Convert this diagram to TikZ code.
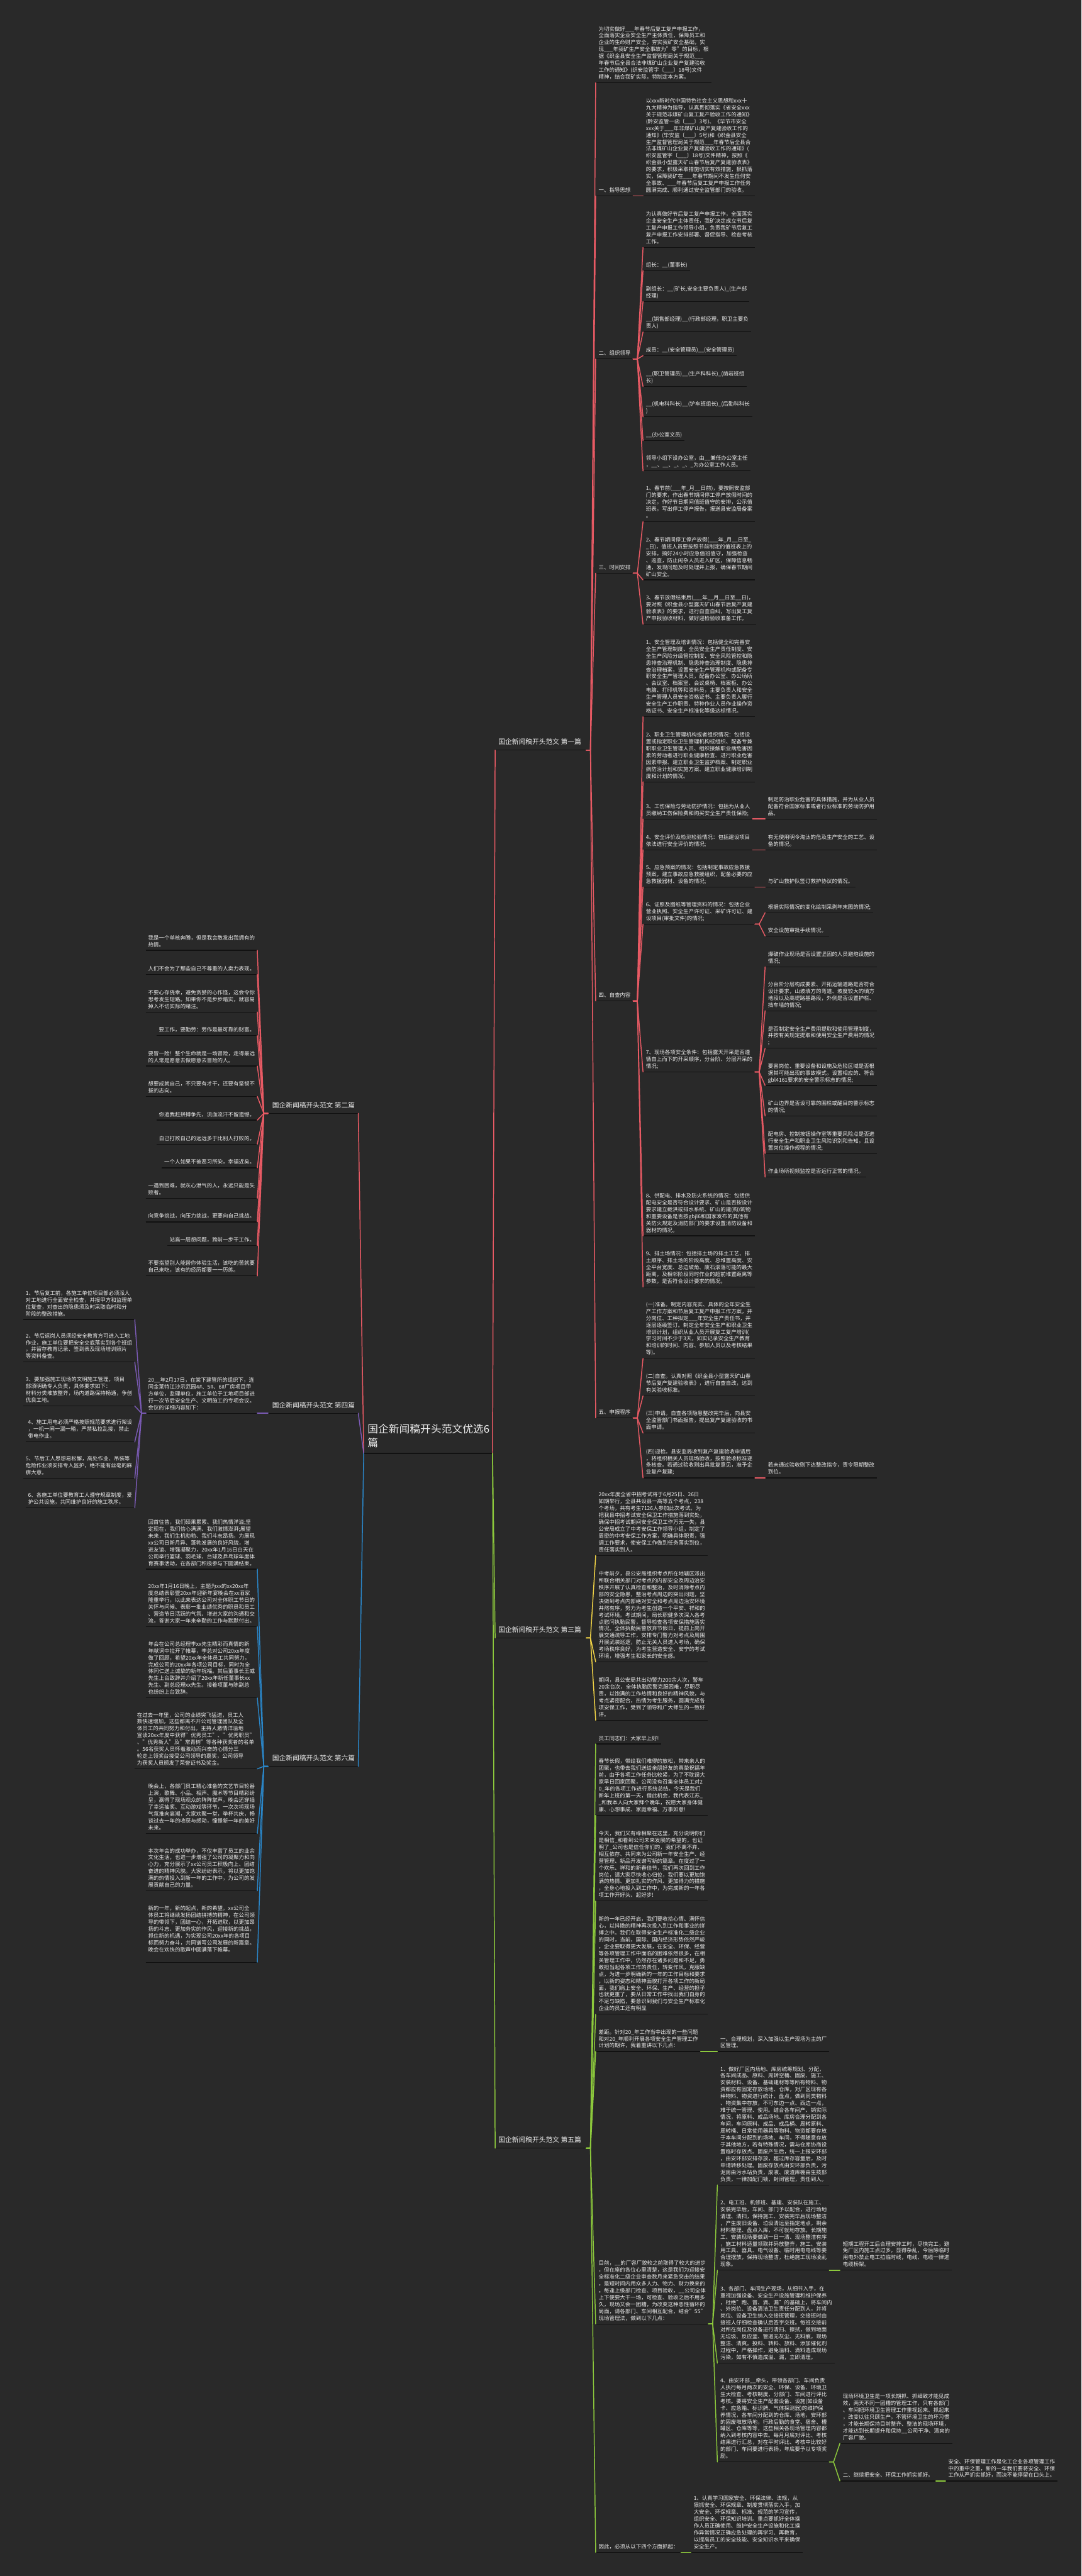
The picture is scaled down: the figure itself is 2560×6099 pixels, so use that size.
\documentclass[tikz,border=0pt]{standalone}
\usepackage{fontspec}
\setmainfont{Noto Sans CJK SC}
\definecolor{bg}{HTML}{292929}
\definecolor{fg}{HTML}{ECECEC}
\definecolor{ulc}{HTML}{111111}
\definecolor{cred}{HTML}{E85A64}
\definecolor{cgrn}{HTML}{8CC83C}
\definecolor{cyel}{HTML}{F0D246}
\definecolor{cblu}{HTML}{2A86C8}
\definecolor{cpur}{HTML}{7A5AB4}
\tikzset{
 every node/.style={text=fg, inner sep=0pt, outer sep=0pt},
 tx/.style={font=\fontsize{12.6}{16.3}\selectfont, align=left},
 rnode/.style={tx, anchor=south west},
 lnode/.style={tx, anchor=south east},
 lab/.style={font=\fontsize{16}{20.8}\selectfont, align=left},
 cen/.style={font=\fontsize{25}{33}\selectfont, align=left},
 ul/.style={draw=ulc, line width=1.8pt},
 con/.style={line width=2.2pt, line join=round, line cap=round},
}
\newcommand\RN[4]{%
 \node[rnode] (#1) at (#2,#3-4) {#4\strut};
 \coordinate (#1-l) at ([xshift=-7pt,yshift=-4pt]#1.south west);
 \coordinate (#1-r) at ([xshift=6pt,yshift=-4pt]#1.south east);
 \draw[ul] (#1-l) -- (#1-r);}
\newcommand\LN[4]{%
 \node[lnode] (#1) at (#2,#3-4) {#4\strut};
 \coordinate (#1-l) at ([xshift=-6pt,yshift=-4pt]#1.south west);
 \coordinate (#1-r) at ([xshift=6pt,yshift=-4pt]#1.south east);
 \draw[ul] (#1-l) -- (#1-r);}
\newcommand\LR[3]{%
 \node[lab, anchor=south west] (#1) at (1180,#2-7) {#3\strut};
 \coordinate (#1-l) at ([xshift=-8pt,yshift=-7pt]#1.south west);
 \coordinate (#1-r) at ([xshift=12pt,yshift=-7pt]#1.south east);
 \draw[ul] (#1-l) -- (#1-r);}
\newcommand\LL[3]{%
 \node[lab, anchor=south east] (#1) at (840,#2-7) {#3\strut};
 \coordinate (#1-l) at ([xshift=-10pt,yshift=-7pt]#1.south west);
 \coordinate (#1-r) at ([xshift=8pt,yshift=-7pt]#1.south east);
 \draw[ul] (#1-l) -- (#1-r);}
\newcommand\FR[3]{\foreach \kid in {#3}{\draw[con,#1] (#2-r) -- ([xshift=10pt]#2-r) -- (\kid-l);}}
\newcommand\FL[3]{\foreach \kid in {#3}{\draw[con,#1] (#2-l) -- ([xshift=-10pt]#2-l) -- (\kid-r);}}
\begin{document}
\begin{tikzpicture}[x=1pt,y=-1pt]
\fill[bg] (0,0) rectangle (2560,6099);
\useasboundingbox (0,0) rectangle (2560,6099);

% ---------- central ----------
\node[cen, anchor=south west] (C) at (870,3436) {国企新闻稿开头范文优选6\\篇\strut};
\coordinate (C-l) at ([xshift=-9pt,yshift=-5pt]C.south west);
\coordinate (C-r) at ([xshift=7pt,yshift=-5pt]C.south east);
\draw[ul] (C-l) -- (C-r);

\LR{L1}{1776}{国企新闻稿开头范文 第一篇}
\LR{L3}{3878}{国企新闻稿开头范文 第三篇}
\LR{L5}{5086}{国企新闻稿开头范文 第五篇}
\LL{L2}{2636}{国企新闻稿开头范文 第二篇}
\LL{L4}{3346}{国企新闻稿开头范文 第四篇}
\LL{L6}{4182}{国企新闻稿开头范文 第六篇}

\draw[con,cred] (C-r) -- (L1-l);
\draw[con,cgrn] (C-r) -- (L3-l);
\draw[con,cgrn] (C-r) -- (L5-l);
\draw[con,cred] (C-l) -- (L2-r);
\draw[con,cpur] (C-l) -- (L4-r);
\draw[con,cblu] (C-l) -- (L6-r);

% ---------- 第一篇 ----------
\RN{a0}{1417}{196}{为切实做好\_\_\_年春节后复工复产申报工作，\\全面落实企业安全生产主体责任，保障员工和\\企业的生命财产安全，夯实我矿安全基础，实\\现\_\_\_年我矿生产安全事故为"零"的目标，根\\据《织金县安全生产监督管理局关于规范\_\_\_\\年春节后全县合法非煤矿山企业复产复建验收\\工作的通知》(织安监管字〔\_\_\_〕18号)文件\\精神，结合我矿实际，特制定本方案。}
\RN{a1}{1417}{464}{一、指导思想}
\RN{a1a}{1529}{464}{以xxx新时代中国特色社会主义思想和xxx十\\九大精神为指导，认真贯彻落实《省安全xxx\\关于规范非煤矿山复工复产验收工作的通知》\\(黔安监管一函〔\_\_\_〕3号)、《毕节市安全\\xxx关于\_\_\_年非煤矿山复产复建验收工作的\\通知》(毕安监〔\_\_\_〕5号)和《织金县安全\\生产监督管理局关于规范\_\_\_年春节后全县合\\法非煤矿山企业复产复建验收工作的通知》(\\织安监管字〔\_\_\_〕18号)文件精神，按照《\\织金县小型露天矿山春节后复产复建验收表》\\的要求，积极采取措施切实有效措施，狠抓落\\实，保障我矿在\_\_\_年春节期间不发生任何安\\全事故、\_\_\_年春节后复工复产申报工作任务\\圆满完成、顺利通过安全监管部门的验收。}
\RN{a2}{1417}{850}{二、组织领导}
\RN{g1}{1529}{586}{为认真做好节后复工复产申报工作，全面落实\\企业安全生产主体责任，我矿决定成立节后复\\工复产申报工作领导小组，负责我矿节后复工\\复产申报工作安排部署、督促指导、检查考核\\工作。}
\RN{g2}{1529}{641}{组长：\_\_(董事长)}
\RN{g3}{1529}{714}{副组长：\_\_(矿长,安全主要负责人)\_(生产部\\经理)}
\RN{g4}{1529}{786}{\_\_(销售部经理)\_\_(行政部经理，职卫主要负\\责人)}
\RN{g5}{1529}{842}{成员：\_\_(安全管理员)\_\_(安全管理员)}
\RN{g6}{1529}{915}{\_\_(职卫管理员)\_\_(生产科科长)\_(凿岩班组\\长)}
\RN{g7}{1529}{987}{\_\_(机电科科长)\_\_(铲车班组长)\_(后勤科科长\\)}
\RN{g8}{1529}{1043}{\_\_(办公室文员)}
\RN{g9}{1529}{1115}{领导小组下设办公室，由\_\_兼任办公室主任\\，\_\_、\_\_、\_、\_、\_为办公室工作人员。}
\RN{a3}{1417}{1357}{三、时间安排}
\RN{t1}{1529}{1235}{1、春节前(\_\_\_年\_月\_\_日前)，要按照安监部\\门的要求，作出春节期间停工停产放假时间的\\决定，作好节日期间值班值守的安排，公示值\\班表，写出停工停产报告，报送县安监局备案\\。}
\RN{t2}{1529}{1373}{2、春节期间停工停产放假(\_\_\_年\_月\_\_日至\_\\\_日)，值班人员要按照节前制定的值班表上的\\安排，搞好24小时应急值班值守，加强检查\\、巡查，防止闲杂人员进入矿区，保障信息畅\\通，发现问题及时处理并上报，确保春节期间\\矿山安全。}
\RN{t3}{1529}{1478}{3、春节放假结束后(\_\_\_年\_\_月\_\_日至\_\_日)，\\要对照《织金县小型露天矿山春节后复产复建\\验收表》的要求，进行自查自纠，写出复工复\\产申报验收材料，做好迎检验收准备工作。}
\RN{a4}{1417}{2370}{四、自查内容}
\RN{z1}{1529}{1697}{1、安全管理及培训情况：包括健全和完善安\\全生产管理制度、全员安全生产责任制度、安\\全生产风险分级管控制度、安全风险管控和隐\\患排查治理机制、隐患排查治理制度、隐患排\\查治理档案，设置安全生产管理机构或配备专\\职安全生产管理人员，配备办公室、办公场所\\、会议室、档案室、会议桌椅、档案柜、办公\\电脑、打印机等和资料员，主要负责人和安全\\生产管理人员安全资格证书、主要负责人履行\\安全生产工作职责、特种作业人员作业操作资\\格证书、安全生产标准化等级达标情况。}
\RN{z2}{1529}{1851}{2、职业卫生管理机构或者组织情况：包括设\\置或指定职业卫生管理机构或组织、配备专兼\\职职业卫生管理人员、组织接触职业病危害因\\素的劳动者进行职业健康检查、进行职业危害\\因素申报、建立职业卫生监护档案、制定职业\\病防治计划和实施方案、建立职业健康培训制\\度和计划的情况。}
\RN{z3}{1529}{1939}{3、工伤保险与劳动防护情况：包括为从业人\\员缴纳工伤保险费和购买安全生产责任保险;}
\RN{z3a}{1818}{1939}{制定防治职业危害的具体措施，并为从业人员\\配备符合国家标准或者行业标准的劳动防护用\\品。}
\RN{z4}{1529}{2012}{4、安全评价及检测检验情况：包括建设项目\\依法进行安全评价的情况;}
\RN{z4a}{1818}{2012}{有无使用明令淘汰的危及生产安全的工艺、设\\备的情况。}
\RN{z5}{1529}{2100}{5、应急预案的情况：包括制定事故应急救援\\预案，建立事故应急救援组织，配备必要的应\\急救援器材、设备的情况;}
\RN{z5a}{1818}{2100}{与矿山救护队签订救护协议的情况。}
\RN{z6}{1529}{2188}{6、证照及图纸等管理资料的情况：包括企业\\营业执照、安全生产许可证、采矿许可证、建\\设项目(审批文件)的情况;}
\RN{z6a}{1818}{2161}{根据实际情况的变化绘制采剥年末图的情况;}
\RN{z6b}{1818}{2216}{安全设施审批手续情况。}
\RN{z7}{1529}{2538}{7、现场各项安全条件：包括露天开采是否遵\\循自上而下的开采顺序，分台阶、分层开采的\\情况;}
\RN{z7a}{1818}{2289}{爆破作业现场是否设置坚固的人员避炮设施的\\情况;}
\RN{z7b}{1818}{2393}{分台阶分层构成要素、开拓运输道路是否符合\\设计要求，山坡填方的弯道、坡度较大的填方\\地段以及高堤路基路段，外侧是否设置护栏、\\挡车墙的情况;}
\RN{z7c}{1818}{2482}{是否制定安全生产费用提取和使用管理制度，\\并按有关规定提取和使用安全生产费用的情况\\;}
\RN{z7d}{1818}{2570}{要害岗位、重要设备和设施及危险区域是否根\\据其可能出现的事故模式，设置相应的、符合\\gbl4161要求的安全警示标志的情况;}
\RN{z7e}{1818}{2642}{矿山边界是否设可靠的围栏或醒目的警示标志\\的情况;}
\RN{z7f}{1818}{2731}{配电房、控制按钮操作室等重要风险点是否进\\行安全生产和职业卫生风险识别和告知，且设\\置岗位操作规程的情况;}
\RN{z7g}{1818}{2787}{作业场所视频监控是否运行正常的情况。}
\RN{z8}{1529}{2926}{8、供配电、排水及防火系统的情况：包括供\\配电安全是否符合设计要求、矿山是否按设计\\要求建立截洪或排水系统、矿山的建(构)筑物\\和重要设备是否按gbjl6和国家发布的其他有\\关防火规定及消防部门的要求设置消防设备和\\器材的情况。}
\RN{z9}{1529}{3047}{9、排土场情况：包括排土场的排土工艺、排\\土顺序、排土场的阶段高度、总堆置高度、安\\全平台宽度、总边坡角、废石滚落可能的最大\\距离，及相邻阶段同时作业的超前堆置距离等\\参数，是否符合设计要求的情况。}
\RN{a5}{1417}{3357}{五、申报程序}
\RN{s1}{1529}{3216}{(一)准备。制定内容充实、具体的全年安全生\\产工作方案和节后复工复产申报工作方案，并\\分岗位、工种拟定\_\_\_年安全生产责任书，并\\逐层逐级签订。制定全年安全生产和职业卫生\\培训计划，组织从业人员开展复工复产培训(\\学习时间不少于3天，如实记录安全生产教育\\和培训的时间、内容、参加人员以及考核结果\\等)。}
\RN{s2}{1529}{3305}{(二)自查。认真对照《织金县小型露天矿山春\\节后复产复建验收表》，进行自查自改，达到\\有关验收标准。}
\RN{s3}{1529}{3393}{(三)申请。自查各项隐患整改完毕后，向县安\\全监管部门书面报告，提出复产复建验收的书\\面申请。}
\RN{s4}{1529}{3499}{(四)迎检。县安监局收到复产复建验收申请后\\，将组织相关人员现场验收，按照验收标准逐\\条核查。若通过验收则出具批复意见，准予企\\业复产复建;}
\RN{s4a}{1818}{3499}{若未通过验收则下达整改指令，责令限期整改\\到位。}

\FR{cred}{L1}{a0,a1,a2,a3,a4,a5}
\FR{cred}{a1}{a1a}
\FR{cred}{a2}{g1,g2,g3,g4,g5,g6,g7,g8,g9}
\FR{cred}{a3}{t1,t2,t3}
\FR{cred}{a4}{z1,z2,z3,z4,z5,z6,z7,z8,z9}
\FR{cred}{z3}{z3a}
\FR{cred}{z4}{z4a}
\FR{cred}{z5}{z5a}
\FR{cred}{z6}{z6a,z6b}
\FR{cred}{z7}{z7a,z7b,z7c,z7d,z7e,z7f,z7g}
\FR{cred}{a5}{s1,s2,s3,s4}
\FR{cred}{s4}{s4a}

% ---------- 第三篇 ----------
\RN{c1}{1417}{3683}{20xx年度全省中招考试将于6月25日、26日\\如期举行，全县共设县一高等五个考点，238\\个考场，共有考生7126人参加此次考试。为\\把我县中招考试安全保卫工作措施落到实处，\\确保中招考试期间安全保卫工作万无一失，县\\公安局成立了中考安保工作领导小组，制定了\\周密的中考安保工作方案，明确具体职责，强\\调工作要求，使安保工作做到任务落实到位，\\责任落实到人。}
\RN{c2}{1417}{3935}{中考前夕，县公安局组织考点所在地辖区派出\\所联合相关部门对考点的内部安全及周边治安\\秩序开展了认真检查和整治，及时消除考点内\\部的安全隐患，整治考点周边的突出问题，坚\\决做到考点内部绝对安全和考点周边治安环境\\井然有序，努力为考生创造一个平安、祥和的\\考试环境。考试期间，局长职健多次深入各考\\点慰问执勤民警，督导检查各项安保措施落实\\情况。全体执勤民警放弃节假日，提前上岗开\\展交通疏导工作，安排专门警力对考点及周围\\开展武装巡逻，防止无关人员进入考场，确保\\考场秩序良好，为考生营造安全、安宁的考试\\环境，增强考生和家长的安全感。}
\RN{c3}{1417}{4073}{期间，县公安局共出动警力200余人次，警车\\20余台次，全体执勤民警克服困难，尽职尽\\责，以饱满的工作热情和良好的精神风貌，与\\考点紧密配合，热情为考生服务，圆满完成各\\项安保工作，受到了领导和广大师生的一致好\\评。}
\FR{cyel}{L3}{c1,c2,c3}

% ---------- 第五篇 ----------
\RN{f1}{1417}{4129}{员工同志们：大家早上好!}
\RN{f2}{1417}{4298}{春节长假，带给我们难得的放松，带来亲人的\\团聚，也带去我们送给亲朋好友的真挚祝福年\\前，由于各项工作任务比较紧，为了不耽误大\\家早日回家团聚，公司没有召集全体员工对2\\0\_年的各项工作进行系统总结。今天是我们\\新年上班的第一天，借此机会，我代表江苏\_\\\_和我本人向大家拜个晚年，祝愿大家身体健\\康、心想事成、家庭幸福、万事如意!}
\RN{f3}{1417}{4501}{今天，我们又有缘相聚在这里，充分说明你们\\是相信\_和看到公司未来发展的希望的，也证\\明了\_公司也是信任你们的，我们不离不弃、\\相互依存、共同来为公司新一年安全生产、经\\营管理、新品开发谱写新的篇章。在度过了一\\个欢乐、祥和的新春佳节，我们再次回到工作\\岗位，请大家尽快收心归位，我们要以更加饱\\满的热情、更加扎实的作风、更加得力的措施\\，全身心地投入到工作中，为完成新的一年各\\项工作开好头、起好步!}
\RN{f4}{1417}{4769}{新的一年已经开启，我们要收拾心情、满怀信\\心，以抖擞的精神再次投入到工作和事业的拼\\搏之中。我们在取得安全生产标准化二级企业\\的同时，当前，国际、国内经济形势依然严峻\\，企业要取得更大发展，在安全、环保、经营\\等各项管理工作中面临的困难依然很多，在相\\关管理工作中，仍然存在诸多问题和不足，勇\\敢担当起各项工作的责任，转变作风，克服缺\\点，为进一步明确新的一年的工作目标和要求\\，以新的姿态和精神面貌打开各项工作的新局\\面，我们肩上安全、环保、生产、经营的担子\\也就更重了，要从日常工作中找出我们自身的\\不足与缺陷，要意识到我们与安全生产标准化\\企业的员工还有明显}
\RN{f5}{1417}{4857}{差距。针对20\_年工作当中出现的一些问题\\和对20\_年顺利开展各项安全生产管理工作\\计划的期许，我着重讲以下几点：}
\RN{f5a}{1705}{4857}{一、合理规划，深入加强以生产现场为主的厂\\区管理。}
\RN{f6}{1417}{5502}{目前，\_\_的厂容厂貌较之前取得了较大的进步\\，但在座的各位心里清楚，这是我们为迎接安\\全标准化二级企业审查数月来紧急突击的结果\\，是短时间内用众多人力、物力、财力换来的\\。每逢上级部门检查、项目验收，\_\_公司全体\\上下便要大干一场，可检查、验收之后不用多\\久，现场又会一团糟，为改变这种恶性循环的\\局面，请各部门、车间相互配合，结合"5S"\\现场管理法，做到以下几点：}
\RN{f6a}{1705}{5173}{1、做好厂区内场地、库房统筹规划、分配，\\各车间成品、原料、周转空桶、固废、施工、\\安装材料、设备、基础建材等等所有物料、物\\资都应有固定存放场地、仓库，对厂区现有各\\种物料、物资进行统计、盘点，做到同类物料\\、物资集中存放，不可东边一点、西边一点，\\难于统一管理、使用。结合各车间产、销实际\\情况，将原料、成品场地、库房合理分配到各\\车间，车间原料、成品、成品桶、周转原料、\\周转桶、日常使用器具等物料、物资都要存放\\于本车间分配到的场地、车间，不得随意存放\\于其他地方，若有特殊情况，需与仓库协商设\\置临时存放点。固废产生后，统一上报安环部\\，由安环部安排存放，超过库存容量后，及时\\申请转移处理。固废存放点由安环部负责，污\\泥房由污水站负责，废液、废渣库棚由生技部\\负责，一律加配门锁，封闭管理，责任到人。}
\RN{f6b}{1705}{5375}{2、电工班、机修班、基建、安装队在施工、\\安装完毕后，车间、部门予以配合，进行场地\\清理、清扫，保持施工、安装完毕后现场整洁\\，产生废旧设备、垃圾清运至指定地点，剩余\\材料整理、盘点入库，不可就地存放。长期施\\工、安装现场要做到一日一清、现场整洁有序\\，施工材料适量领取并码放整齐，施工、安装\\用工具、器具、电气设备、临时用电电线等要\\合理摆放，保持现场整洁，杜绝施工现场凌乱\\现象。}
\RN{f6b1}{1995}{5375}{短期工程开工后合理安排工时，尽快完工，避\\免厂区内施工点过多，显得杂乱，今后除临时\\用电外禁止电工拉临时线，电线、电缆一律进\\电缆桥架。}
\RN{f6c}{1705}{5595}{3、各部门、车间生产现场，从细节入手，在\\重视加强设备、安全生产设施管理和维护保养\\，杜绝"跑、冒、滴、漏"的基础上，将车间内\\、外岗位、设备清洁卫生责任分配到人，并将\\岗位、设备卫生纳入交接班管理，交接班时由\\接班人仔细检查确认后签字交班。每班交接前\\对所在岗位及设备进行清扫、擦拭，做到地面\\无垃圾、反应釜、管道无灰尘、无料痕，现场\\整洁、清爽。投料、转料、放料、添加催化剂\\过程中，严格操作，避免溢料、滴料造成现场\\污染，如有不慎造成溢、漏，立即清理。}
\RN{f6d}{1705}{5829}{4、由安环部\_\_牵头，带领各部门、车间负责\\人执行每月两次的安全、环保、设备、环境卫\\生大检查、考核制度，分部门、车间进行评比\\考核。要将安全生产配套设备、设施(如设备\\卡、应急箱、标识牌、气体探测器)的维护保\\养情况，各车间分配到的仓库、场地，安环部\\的固废堆放场地，行政后勤的食堂、宿舍、槽\\罐区、仓库等等，这些相关各现场管理内容都\\纳入到考核内容中去。每月月底对评比、考核\\结果进行汇总，对在平时评比、考核中比较好\\的部门、车间要进行表扬，年底要予以专项奖\\励。}
\RN{f6d1}{1995}{5785}{现场环境卫生是一项长期抓、抓细致才能见成\\效，两天不同一团糟的管理工作，只有各部门\\、车间把环境卫生管理工作重视起来、抓起来\\，改变以往只顾生产，不管环境卫生的坏习惯\\，才能长期保持目前整齐、整洁的现场环境，\\才能达到长期提升和保持\_\_公司干净、清爽的\\厂容厂貌。}
\RN{f6d2}{1995}{5874}{二、继续把安全、环保工作抓实抓好。}
\RN{f6d2a}{2245}{5874}{安全、环保管理工作是化工企业各项管理工作\\中的重中之重，新的一年我们要将安全、环保\\工作从严抓实抓好，而决不能停留在口头上。}
\RN{f7}{1417}{6043}{因此，必须从以下四个方面抓起：}
\RN{f7a}{1642}{6043}{1、认真学习国家安全、环保法律、法规，从\\狠抓安全、环保规章、制度贯彻落实入手，加\\大安全、环保规章、标准、规范的学习宣传，\\组织安全、环保知识培训。重点要抓好全体操\\作人员正确使用、维护安全生产设施和化工操\\作异常情况正确应急处理的再学习、再教育，\\以提高员工的安全技能、安全知识水平来确保\\安全生产。}
\FR{cgrn}{L5}{f1,f2,f3,f4,f5,f6,f7}
\FR{cgrn}{f5}{f5a}
\FR{cgrn}{f6}{f6a,f6b,f6c,f6d}
\FR{cgrn}{f6b}{f6b1}
\FR{cgrn}{f6d}{f6d1,f6d2}
\FR{cgrn}{f6d2}{f6d2a}
\FR{cgrn}{f7}{f7a}

% ---------- 第二篇 ----------
\LN{e1}{603}{2250}{我是一个单核奔腾，但是我会散发出我拥有的\\热情。}
\LN{e2}{603}{2307}{人们不会为了那些自己不尊重的人卖力表现。}
\LN{e3}{603}{2396}{不要心存侥幸，避免贪婪的心作怪，这会令你\\思考发生短路。如果你不是步步踏实，就容易\\掉入不切实际的赌注。}
\LN{e4}{603}{2452}{要工作，要勤劳：劳作是最可靠的财富。}
\LN{e5}{603}{2524}{要冒一险！整个生命就是一场冒险，走得最远\\的人常是愿意去做愿意去冒险的人。}
\LN{e6}{603}{2596}{想要成就自己，不只要有才干，还要有坚韧不\\拔的志向。}
\LN{e7}{603}{2652}{你追我赶拼搏争先，流血流汗不留遗憾。}
\LN{e8}{603}{2709}{自己打败自己的远远多于比别人打败的。}
\LN{e9}{603}{2765}{一个人如果不被恶习所染，幸福近矣。}
\LN{e10}{603}{2837}{一遇到困难，就灰心泄气的人，永远只能是失\\败者。}
\LN{e11}{603}{2893}{向竞争挑战，向压力挑战，更要向自己挑战。}
\LN{e12}{603}{2949}{站高一层想问题，跨前一步干工作。}
\LN{e13}{603}{3021}{不要指望别人能替你体验生活，该吃的苦就要\\自己来吃，该有的经历都要一一历练。}
\FL{cred}{L2}{e1,e2,e3,e4,e5,e6,e7,e8,e9,e10,e11,e12,e13}

% ---------- 第四篇 ----------
\LN{p4}{603}{3346}{20\_\_年2月17日，在棠下建管所的组织下，连\\同金莱特江沙示范园4\#、5\#、6\#厂房项目甲\\方单位，监理单位，施工单位于工地项目部进\\行一次节后安全生产、文明施工的专项会议。\\会议的详细内容如下：}
\LN{q1}{313}{3124}{1、节后复工前，各施工单位项目部必须派人\\对工地进行全面安全检查，并报甲方和监理单\\位复查，对查出的隐患须及时采取临时和分\\阶段的整改措施。}
\LN{q2}{313}{3225}{2、节后返岗人员须经安全教育方可进入工地\\作业，施工单位要把安全交底落实到各个班组\\，并留存教育记录、签到表及现场培训照片\\等资料备查。}
\LN{q3}{313}{3329}{3、要加强施工现场的文明施工管理，项目\\部须明确专人负责，具体要求如下：\\材料分类堆放整齐，场内道路保持畅通，争创\\优良工地。}
\LN{q4}{313}{3414}{4、施工用电必须严格按照规范要求进行架设\\，一机一闸一漏一箱，严禁私拉乱接，禁止\\带电作业。}
\LN{q5}{313}{3500}{5、节后工人思想易松懈，高处作业、吊装等\\危险作业须安排专人监护，绝不能有丝毫的麻\\痹大意。}
\LN{q6}{313}{3570}{6、各施工单位要教育工人遵守规章制度，爱\\护公共设施，共同维护良好的施工秩序。}
\FL{cpur}{L4}{p4}
\FL{cpur}{p4}{q1,q2,q3,q4,q5,q6}

% ---------- 第六篇 ----------
\LN{b1}{603}{3715}{回首往昔，我们硕果累累、我们热情洋溢;坚\\定现在，我们信心满满、我们激情澎湃;展望\\未来，我们生机勃勃、我们斗志昂扬。为展现\\xx公司日新月异、蓬勃发展的良好风貌，增\\进友谊、增强凝聚力，20xx年1月16日白天在\\公司举行篮球、羽毛球、台球及乒乓球年度体\\育赛事活动，在各部门积极参与下圆满结束。}
\LN{b2}{603}{3851}{20xx年1月16日晚上，主题为xx的xx20xx年\\度总结表彰暨20xx年迎新年宴晚会在xx酒家\\隆重举行，以此来表达公司对全体职工节日的\\关怀与问候、表彰一批业绩优秀的职员和员工\\、营造节日活跃的气氛、增进大家的沟通和交\\流，答谢大家一年来辛勤的工作与默默付出。}
\LN{b3}{603}{4020}{年会在公司总经理李xx先生精彩而真情的新\\年献词中拉开了帷幕，李总对公司20xx年度\\做了回顾，希望20xx年全体员工共同努力，\\完成公司的20xx年各项公司目标，同时为全\\体同仁送上诚挚的新年祝福。其后董事长王威\\先生上台致辞并介绍了20xx年新任董事长xx\\先生、副总经理xx先生。接着项董与陈副总\\也纷纷上台致辞。}
\LN{b4}{603}{4188}{在过去一年里，公司的业绩突飞猛进，员工人\\数快速增加，这些都离不开公司管理团队及全\\体员工的共同努力和付出。主持人激情洋溢地\\宣读20xx年度中获得"优秀员工"、"优秀职员"\\、"优秀新人"及"常青树"等各种获奖者的名单\\。56名获奖人员怀着激动而兴奋的心情分三\\轮走上领奖台接受公司领导的嘉奖，公司领导\\为获奖人员颁发了荣誉证书及奖金。}
\LN{b5}{603}{4341}{晚会上，各部门员工精心准备的文艺节目轮番\\上演，歌舞、小品、相声、魔术等节目精彩纷\\呈，赢得了现场观众的阵阵掌声。晚会还穿插\\了幸运抽奖、互动游戏等环节，一次次将现场\\气氛推向高潮，大家欢聚一堂，举杯共庆，畅\\谈过去一年的收获与感动，憧憬新一年的美好\\未来。}
\LN{b6}{603}{4477}{本次年会的成功举办，不仅丰富了员工的业余\\文化生活，也进一步增强了公司的凝聚力和向\\心力，充分展示了xx公司员工积极向上、团结\\奋进的精神风貌。大家纷纷表示，将以更加饱\\满的热情投入到新一年的工作中，为公司的发\\展贡献自己的力量。}
\LN{b7}{603}{4646}{新的一年，新的起点，新的希望。xx公司全\\体员工将继续发扬团结拼搏的精神，在公司领\\导的带领下，团结一心，开拓进取，以更加昂\\扬的斗志、更加务实的作风，迎接新的挑战，\\抓住新的机遇，为实现公司20xx年的各项目\\标而努力奋斗，共同谱写公司发展的新篇章。\\晚会在欢快的歌声中圆满落下帷幕。\\}
\FL{cblu}{L6}{b1,b2,b3,b4,b5,b6,b7}
\end{tikzpicture}
\end{document}
